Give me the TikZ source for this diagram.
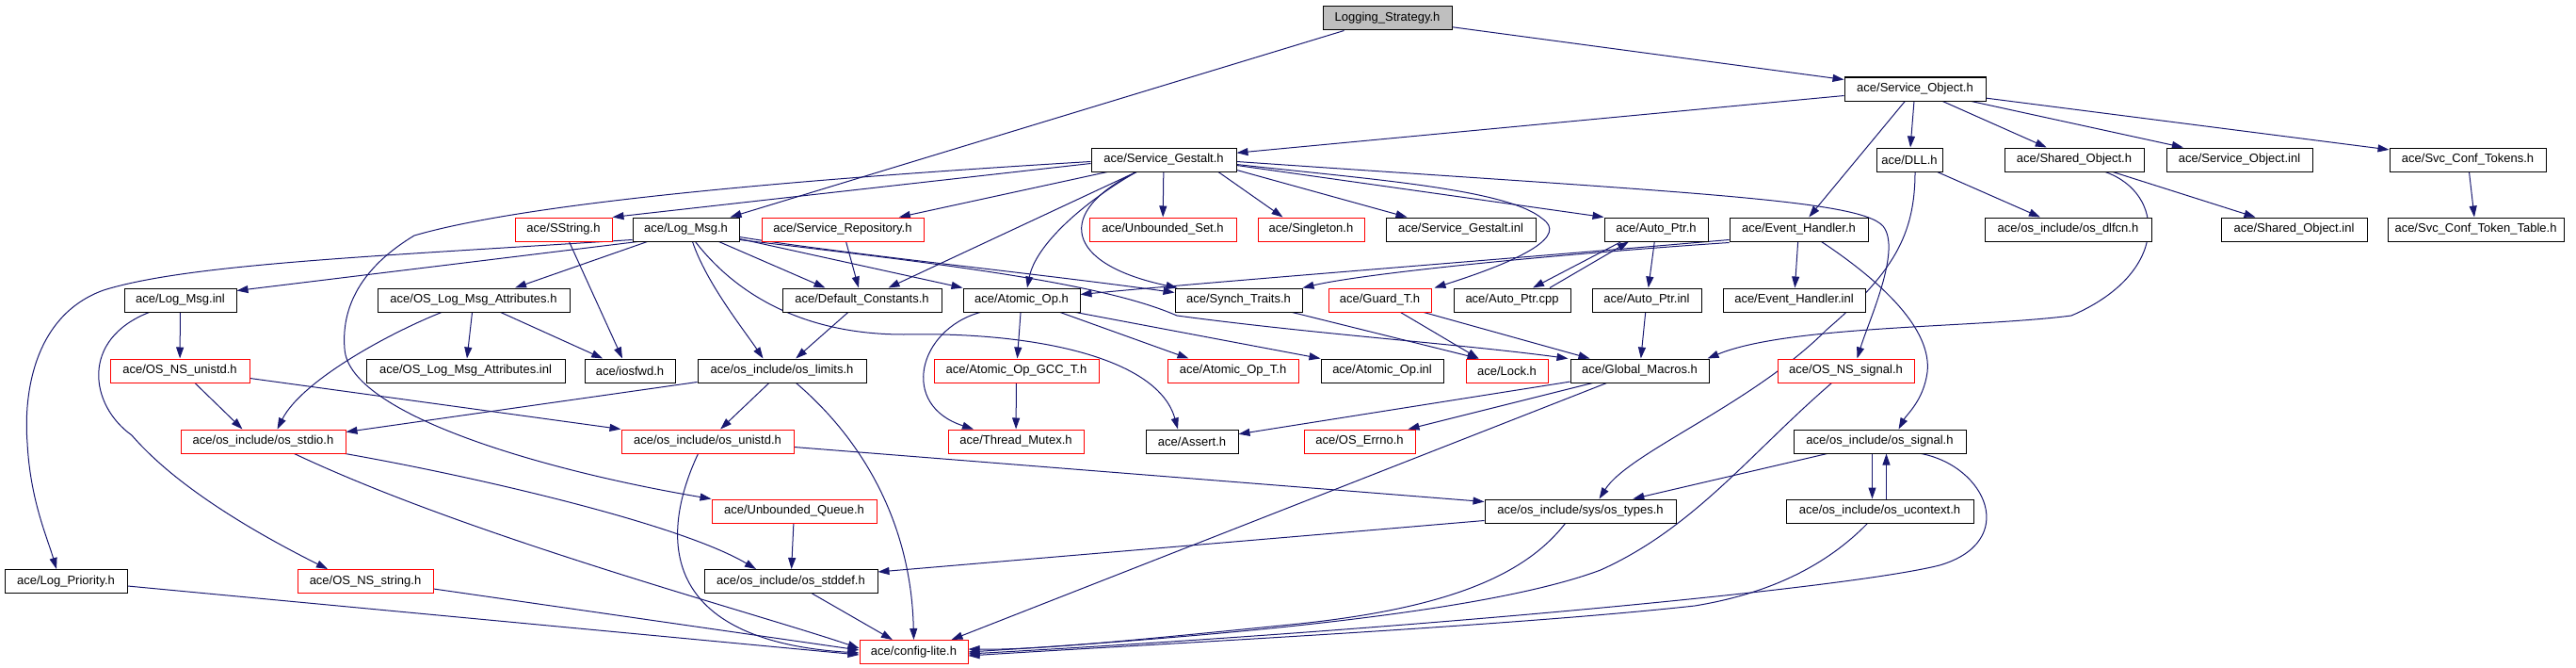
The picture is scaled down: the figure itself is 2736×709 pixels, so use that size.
\documentclass[tikz,border=0pt]{standalone}
\usepackage{fontspec}
\setmainfont{Liberation Sans}
\usetikzlibrary{arrows.meta,calc,backgrounds}
\definecolor{edgeblue}{RGB}{25,25,112}
\definecolor{nodered}{RGB}{255,0,0}
\definecolor{rootgray}{RGB}{191,191,191}
\begin{document}
\begin{tikzpicture}[x=1pt,y=-1pt,
  box/.style={draw=black,line width=1pt,minimum height=25pt,inner sep=0pt,font=\fontsize{13pt}{15pt}\selectfont,fill=white},
  rbox/.style={box,draw=nodered},
  gbox/.style={box,fill=rootgray},
  edge/.style={draw=edgeblue,line width=1pt,-{Triangle[length=12pt,width=8pt]}},
]
\useasboundingbox (0,0) rectangle (2736,709);
% row 0/1
\node[gbox,minimum width=137pt] (ls) at (1473.5,19.5) {Logging\_Strategy.h};
\node[box,minimum width=150pt] (so) at (2034,94.5) {ace/Service\_Object.h};
\node[box,minimum width=154pt] (sg) at (1236,169.5) {ace/Service\_Gestalt.h};
\node[box,minimum width=70pt] (dll) at (2028,169.5) {ace/DLL.h};
\node[box,minimum width=148pt] (sho) at (2203,169.5) {ace/Shared\_Object.h};
\node[box,minimum width=155pt] (soinl) at (2378.5,169.5) {ace/Service\_Object.inl};
\node[box,minimum width=166pt] (sct) at (2621,169.5) {ace/Svc\_Conf\_Tokens.h};
% row 2
\node[box,minimum width=177pt] (dlfcn) at (2196.5,243.5) {ace/os\_include/os\_dlfcn.h};
\node[box,minimum width=155pt] (shoinl) at (2436.5,243.5) {ace/Shared\_Object.inl};
\node[box,minimum width=187pt] (sctt) at (2629.5,243.5) {ace/Svc\_Conf\_Token\_Table.h};
\node[rbox,minimum width=103pt] (sstr) at (598.5,243.5) {ace/SString.h};
\node[box,minimum width=113pt] (lm) at (728.5,243.5) {ace/Log\_Msg.h};
\node[rbox,minimum width=172pt] (srep) at (895,243.5) {ace/Service\_Repository.h};
\node[rbox,minimum width=156pt] (uset) at (1235,243.5) {ace/Unbounded\_Set.h};
\node[rbox,minimum width=113pt] (sing) at (1392.5,243.5) {ace/Singleton.h};
\node[box,minimum width=159pt] (sginl) at (1551.5,243.5) {ace/Service\_Gestalt.inl};
\node[box,minimum width=110pt] (ap) at (1759,243.5) {ace/Auto\_Ptr.h};
\node[box,minimum width=147pt] (eh) at (1910.5,243.5) {ace/Event\_Handler.h};
% row 3
\node[box,minimum width=119pt] (lminl) at (191.5,318.5) {ace/Log\_Msg.inl};
\node[box,minimum width=204pt] (olma) at (503,318.5) {ace/OS\_Log\_Msg\_Attributes.h};
\node[box,minimum width=169pt] (dc) at (915.5,318.5) {ace/Default\_Constants.h};
\node[box,minimum width=124pt] (ao) at (1085,318.5) {ace/Atomic\_Op.h};
\node[box,minimum width=135pt] (st) at (1315.5,318.5) {ace/Synch\_Traits.h};
\node[rbox,minimum width=109pt] (gt) at (1465.5,318.5) {ace/Guard\_T.h};
\node[box,minimum width=124pt] (apcpp) at (1606,318.5) {ace/Auto\_Ptr.cpp};
\node[box,minimum width=116pt] (apinl) at (1749,318.5) {ace/Auto\_Ptr.inl};
\node[box,minimum width=151pt] (ehinl) at (1905.5,318.5) {ace/Event\_Handler.inl};
% row 4
\node[rbox,minimum width=148pt] (nsun) at (191,393.5) {ace/OS\_NS\_unistd.h};
\node[box,minimum width=211pt] (olmainl) at (494.5,393.5) {ace/OS\_Log\_Msg\_Attributes.inl};
\node[box,minimum width=96pt] (iosfwd) at (669,393.5) {ace/iosfwd.h};
\node[box,minimum width=179pt] (lim) at (830.5,393.5) {ace/os\_include/os\_limits.h};
\node[rbox,minimum width=175pt] (aogcc) at (1079.5,393.5) {ace/Atomic\_Op\_GCC\_T.h};
\node[rbox,minimum width=139pt] (aot) at (1309.5,393.5) {ace/Atomic\_Op\_T.h};
\node[box,minimum width=130pt] (aoinl) at (1468,393.5) {ace/Atomic\_Op.inl};
\node[rbox,minimum width=87pt] (lock) at (1600.5,393.5) {ace/Lock.h};
\node[box,minimum width=147pt] (gm) at (1741.5,393.5) {ace/Global\_Macros.h};
\node[rbox,minimum width=145pt] (nssig) at (1960.5,393.5) {ace/OS\_NS\_signal.h};
% row 5
\node[rbox,minimum width=175pt] (stdio) at (279.5,468.5) {ace/os\_include/os\_stdio.h};
\node[rbox,minimum width=183pt] (unistd) at (751.5,468.5) {ace/os\_include/os\_unistd.h};
\node[rbox,minimum width=144pt] (tm) at (1079,468.5) {ace/Thread\_Mutex.h};
\node[box,minimum width=98pt] (assert) at (1266,468.5) {ace/Assert.h};
\node[rbox,minimum width=118pt] (errno) at (1444,468.5) {ace/OS\_Errno.h};
\node[box,minimum width=183pt] (sig) at (1996.5,468.5) {ace/os\_include/os\_signal.h};
% row 6
\node[rbox,minimum width=175pt] (uq) at (843.5,542.5) {ace/Unbounded\_Queue.h};
\node[box,minimum width=203pt] (types) at (1678.5,542.5) {ace/os\_include/sys/os\_types.h};
\node[box,minimum width=199pt] (uctx) at (1996.5,542.5) {ace/os\_include/os\_ucontext.h};
% row 7
\node[box,minimum width=130pt] (lp) at (70,617) {ace/Log\_Priority.h};
\node[rbox,minimum width=144pt] (nsstr) at (388,617) {ace/OS\_NS\_string.h};
\node[box,minimum width=184pt] (stddef) at (840,617) {ace/os\_include/os\_stddef.h};
% row 8
\node[rbox,minimum width=115pt] (cl) at (970.5,692) {ace/config-lite.h};

\begin{scope}[on background layer]
% Logging_Strategy
\draw[edge] ([xshift=-46pt]ls.south) -- ([xshift=47pt]lm.north);
\draw[edge] (ls) -- (so);
% Service_Object
\draw[edge] (so) -- (sg);
\draw[edge] (so) -- (dll);
\draw[edge] (so) -- (eh);
\draw[edge] (so) -- (sho);
\draw[edge] (so) -- (soinl);
\draw[edge] (so) -- (sct);
\draw[edge] (dll) -- (dlfcn);
\draw[edge] (sho) -- (shoinl);
\draw[edge] (sct) -- (sctt);
\draw[edge] ([xshift=33pt]sho.south) .. controls (2300,205) and (2305,290) .. (2200,335) .. controls (2100,348) and (1900,345) .. ($(gm.north east)+(-2,0)$);
\draw[edge] ([xshift=6pt]dll.south) .. controls (2034,250) and (2010,290) .. (1940,350) .. controls (1860,430) and (1730,480) .. ([xshift=20pt]types.north);
% Event_Handler
\draw[edge] (eh) -- (ehinl);
\draw[edge] ([xshift=24pt]eh.south) .. controls (2000,300) and (2052,350) .. (2047,395) .. controls (2043,425) and (2025,440) .. ([xshift=20pt]sig.north);
\draw[edge] ($(eh.south west)+(0,-2)$) .. controls (1600,275) and (1300,298) .. ($(ao.east)+(0,-6)$);
\draw[edge] ($(eh.south west)+(0,1)$) .. controls (1650,270) and (1450,290) .. (st.north east);
% Auto_Ptr
\draw[edge] ([xshift=-37pt]ap.south) -- ([xshift=22pt]apcpp.north);
\draw[edge] ([xshift=40pt]apcpp.north) -- ([xshift=-29pt]ap.south);
\draw[edge] (ap) -- (apinl);
\draw[edge] (apinl) -- (gm);
% Guard_T, Global_Macros
\draw[edge] (gt) -- ([xshift=-30pt]lock.north);
\draw[edge] (gt) -- ([xshift=-53pt]gm.north);
\draw[edge] (gm) -- (assert);
\draw[edge] ([xshift=-50pt]gm.south) -- ([xshift=-8pt]errno.north east);
\draw[edge] ([xshift=-35pt]gm.south) -- ([xshift=-18pt]cl.north east);
% Service_Gestalt
\draw[edge] ($(sg.west)+(0,4)$) -- (sstr.north east);
\draw[edge] ($(sg.west)+(0,2)$) .. controls (850,190) and (560,215) .. (440,250) .. controls (390,280) and (362,320) .. (366,370) .. controls (370,440) and (580,500) .. (uq.north west);
\draw[edge] (sg) -- (srep);
\draw[edge] ([xshift=-29pt]sg.south) -- ([xshift=28pt]dc.north);
\draw[edge] ([xshift=-29pt]sg.south) .. controls (1150,215) and (1100,260) .. ([xshift=6pt]ao.north);
\draw[edge] ([xshift=-29pt]sg.south) .. controls (1120,225) and (1130,280) .. ($(st.north west)+(3,0)$);
\draw[edge] (sg) -- (uset);
\draw[edge] ([xshift=58pt]sg.south) -- ([xshift=-30pt]sing.north);
\draw[edge] ($(sg.south east)+(0,-2)$) -- ([xshift=-57pt]sginl.north);
\draw[edge] ($(sg.east)+(0,6)$) -- (ap.north west);
\draw[edge] ($(sg.east)+(0,5)$) .. controls (1450,190) and (1600,200) .. (1638,232) .. controls (1665,250) and (1620,275) .. ($(gt.north east)+(3,0)$);
\draw[edge] ($(sg.east)+(0,2)$) .. controls (1800,205) and (1975,212) .. (2000,240) .. controls (2020,265) and (1985,340) .. ([xshift=12pt]nssig.north);
% Log_Msg
\draw[edge] ($(lm.south west)+(0,-2)$) .. controls (400,272) and (200,280) .. (110,308) .. controls (35,335) and (25,420) .. (29,470) .. controls (32,530) and (50,570) .. ([xshift=-10pt]lp.north);
\draw[edge] ([xshift=6pt]lm.south west) -- ($(lminl.north east)+(0,3)$);
\draw[edge] ([xshift=-41pt]lm.south) -- ([xshift=44pt]olma.north);
\draw[edge] ([xshift=35pt]lm.south) -- ([xshift=-39pt]dc.north);
\draw[edge] ([xshift=7pt]lm.south) .. controls (750,300) and (790,350) .. ([xshift=-20pt]lim.north);
\draw[edge] ($(lm.east)+(0,10)$) -- (ao.north west);
\draw[edge] ($(lm.east)+(0,8)$) .. controls (900,270) and (1100,290) .. ($(st.west)+(0,-8)$);
\draw[edge] ($(lm.east)+(0,11)$) .. controls (1000,280) and (1170,300) .. (1250,335) .. controls (1400,355) and (1550,365) .. ($(gm.north west)+(-2,0)$);
\draw[edge] ([xshift=10pt]lm.south) .. controls (780,310) and (850,355) .. (960,355) .. controls (1100,352) and (1230,380) .. ([xshift=-15pt]assert.north);
% Log_Msg.inl, OS_Log_Msg_Attributes, SString
\draw[edge] (lminl) -- (nsun);
\draw[edge] ([xshift=-33pt]lminl.south) .. controls (85,360) and (95,430) .. (140,462) .. controls (190,520) and (280,570) .. ([xshift=-40pt]nsstr.north);
\draw[edge] (olma) -- (olmainl);
\draw[edge] (olma) -- (iosfwd);
\draw[edge] ([xshift=-34pt]olma.south) .. controls (410,355) and (320,405) .. ([xshift=15pt]stdio.north);
\draw[edge] ([xshift=6pt]sstr.south) -- ([xshift=-8pt]iosfwd.north);
\draw[edge] (srep) -- (dc);
\draw[edge] (dc) -- (lim);
% os_limits
\draw[edge] (lim) -- (unistd);
\draw[edge] ($(lim.south west)+(0,-1)$) -- ($(stdio.north east)+(0,3)$);
\draw[edge] ([xshift=15pt]lim.south) .. controls (920,470) and (968,560) .. (cl.north);
% OS_NS_unistd
\draw[edge] ([xshift=16pt]nsun.south) -- ([xshift=-22pt]stdio.north);
\draw[edge] ($(nsun.east)+(0,8)$) -- (unistd.north west);
% os_stdio
\draw[edge] ($(stdio.south east)+(-1,0)$) .. controls (500,505) and (720,555) .. ([xshift=-37pt]stddef.north);
\draw[edge] ([xshift=33pt]stdio.south) .. controls (500,570) and (800,650) .. ($(cl.west)+(0,-4)$);
\draw[edge] ($(nsstr.east)+(0,8)$) -- ($(cl.west)+(0,-2)$);
\draw[edge] ($(lp.east)+(0,5)$) -- ($(cl.west)+(0,3)$);
% os_unistd
\draw[edge] ([xshift=-10pt]unistd.south) .. controls (700,570) and (700,680) .. ($(cl.west)+(0,1)$);
\draw[edge] ($(unistd.east)+(0,6)$) -- ($(types.west)+(0,-10)$);
% lower
\draw[edge] (uq) -- (stddef);
\draw[edge] (stddef) -- (cl);
\draw[edge] ($(types.west)+(0,10)$) -- ($(stddef.east)+(0,-10)$);
\draw[edge] ([xshift=-16pt]types.south) .. controls (1620,610) and (1540,645) .. (1380,662) .. controls (1200,680) and (1100,690) .. ($(cl.east)+(0,-3)$);
\draw[edge] (sig) -- (types);
\draw[edge] ([xshift=-8pt]sig.south) -- ([xshift=-8pt]uctx.north);
\draw[edge] ([xshift=7pt]uctx.north) -- ([xshift=7pt]sig.south);
\draw[edge] ($(sig.south east)+(-48,0)$) .. controls (2110,495) and (2145,575) .. (2060,600) .. controls (1960,625) and (1500,668) .. ($(cl.east)+(0,2)$);
\draw[edge] ([xshift=-13pt]uctx.south) .. controls (1940,600) and (1880,630) .. (1800,643) .. controls (1600,665) and (1200,685) .. ($(cl.east)+(0,4)$);
\draw[edge] ([xshift=-15pt]nssig.south) .. controls (1860,480) and (1800,560) .. (1700,605) .. controls (1580,650) and (1300,675) .. (cl.east);
% Atomic_Op
\draw[edge] (ao) -- (aogcc);
\draw[edge] ([xshift=-44pt]ao.south) .. controls (975,350) and (955,430) .. ([xshift=-45pt]tm.north);
\draw[edge] ([xshift=41pt]ao.south) -- ([xshift=-47pt]aot.north);
\draw[edge] ($(ao.south east)+(-5,0)$) -- (aoinl.north west);
\draw[edge] (aogcc) -- (tm);
% Synch_Traits
\draw[edge] ([xshift=57pt]st.south) -- ([xshift=-30pt]lock.north);
\end{scope}
\end{tikzpicture}
\end{document}
